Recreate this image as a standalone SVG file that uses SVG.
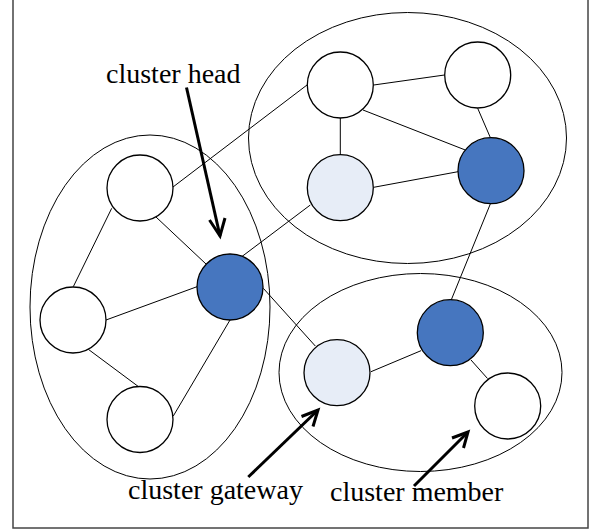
<svg xmlns="http://www.w3.org/2000/svg" width="597" height="531" viewBox="0 0 597 531">
<style>
.frame{fill:#fff;stroke:#444;stroke-width:1.5}
.cl{fill:none;stroke:#000;stroke-width:1}
.n{stroke:#000;stroke-width:1.3}
.w{fill:#fff}
.g{fill:#e7edf7}
.h{fill:#4676bf}
.e{stroke:#000;stroke-width:1;fill:none}
.a{stroke:#000;stroke-width:3;fill:none;stroke-linecap:butt}
.t{font-family:"Liberation Serif","Times New Roman",serif;font-size:28px;fill:#000}
</style>
<rect x="0" y="0" width="597" height="531" fill="#fff"/>
<rect class="frame" x="13" y="-2" width="575" height="530"/>
<g id="clusters">
<ellipse class="cl" cx="150" cy="307" rx="120" ry="172"/>
<ellipse class="cl" cx="407.5" cy="138" rx="159" ry="125.5"/>
<ellipse class="cl" cx="420.5" cy="372.5" rx="141.5" ry="99"/>
</g>
<g id="connectors">
<line class="e" x1="173" y1="187" x2="307" y2="85"/>
<line class="e" x1="156" y1="217" x2="206" y2="264"/>
<line class="e" x1="111.7" y1="208.3" x2="73.3" y2="286.7"/>
<line class="e" x1="106" y1="320" x2="197" y2="286.7"/>
<line class="e" x1="88.3" y1="349.3" x2="138.3" y2="386.5"/>
<line class="e" x1="173.3" y1="416" x2="230" y2="320"/>
<line class="e" x1="241.7" y1="256.7" x2="310.3" y2="205"/>
<line class="e" x1="263.3" y1="288.3" x2="315.3" y2="346"/>
<line class="e" x1="373.7" y1="85" x2="444.5" y2="75"/>
<line class="e" x1="340.3" y1="118" x2="340.3" y2="155"/>
<line class="e" x1="363" y1="110" x2="465.3" y2="150"/>
<line class="e" x1="477.7" y1="108.3" x2="490.3" y2="137.5"/>
<line class="e" x1="373.7" y1="187.3" x2="458" y2="171.7"/>
<line class="e" x1="490.3" y1="204" x2="451" y2="300.5"/>
<line class="e" x1="371" y1="371.7" x2="421" y2="350.7"/>
<line class="e" x1="471" y1="360" x2="487.5" y2="378.5"/>
</g>
<g id="head-left"><circle class="n h" cx="230" cy="287" r="33"/></g>
<g id="left-top"><circle class="n w" cx="140" cy="188" r="33"/></g>
<g id="left-mid"><circle class="n w" cx="73" cy="320" r="33"/></g>
<g id="left-bottom"><circle class="n w" cx="140" cy="419.5" r="33"/></g>
<g id="top-left"><circle class="n w" cx="340.3" cy="85" r="33"/></g>
<g id="top-right"><circle class="n w" cx="477.7" cy="75" r="33"/></g>
<g id="top-gateway"><circle class="n g" cx="340.3" cy="187.7" r="33"/></g>
<g id="head-top"><circle class="n h" cx="491" cy="170.7" r="33"/></g>
<g id="bottom-gateway"><circle class="n g" cx="337" cy="372.7" r="33"/></g>
<g id="head-bottom"><circle class="n h" cx="450.3" cy="332.7" r="33"/></g>
<g id="bottom-member"><circle class="n w" cx="507.7" cy="406" r="33"/></g>
<g id="labels">
<text class="t" x="106" y="83">cluster head</text>
<line class="a" x1="186.5" y1="87.5" x2="220" y2="236"/>
<polyline class="a" points="209.5,220 220,236 225,218"/>
<text class="t" x="128" y="499">cluster gateway</text>
<line class="a" x1="248.3" y1="477" x2="318" y2="410"/>
<polyline class="a" points="301.5,416.5 318,410 313,426.5"/>
<text class="t" x="330" y="501">cluster member</text>
<line class="a" x1="414" y1="486" x2="468" y2="432"/>
<polyline class="a" points="452,438 468,432 463.5,448"/>
</g>
</svg>
